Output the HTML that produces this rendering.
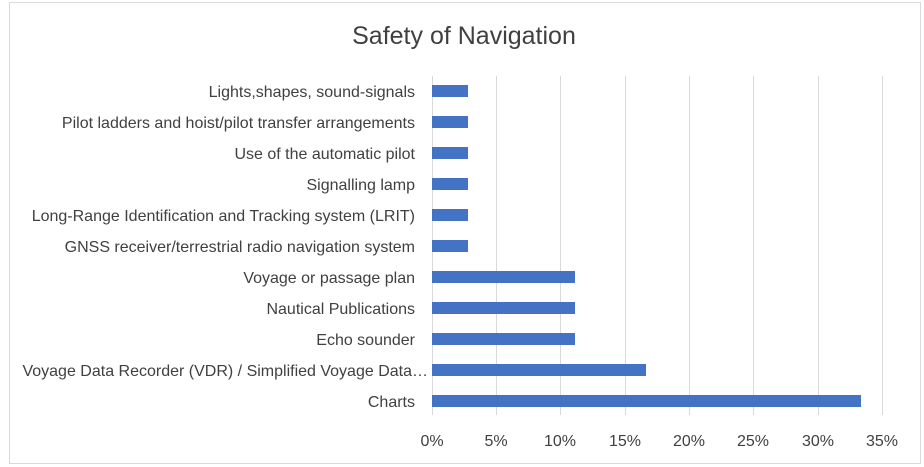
<!DOCTYPE html>
<html><head><style>
body{margin:0;background:#fff;}
svg{display:block;font-family:"Liberation Sans",sans-serif;}
</style></head><body>
<svg width="924" height="467" viewBox="0 0 924 467">
<rect x="9.5" y="2.5" width="911" height="461" fill="#fff" stroke="#d9d9d9"/>
<text x="464" y="44" font-size="25" fill="#404040" text-anchor="middle">Safety of Navigation</text>
<g stroke="#d9d9d9" stroke-width="1">
<line x1="432.5" y1="76" x2="432.5" y2="415"/>
<line x1="496.5" y1="76" x2="496.5" y2="415"/>
<line x1="560.5" y1="76" x2="560.5" y2="415"/>
<line x1="625.5" y1="76" x2="625.5" y2="415"/>
<line x1="689.5" y1="76" x2="689.5" y2="415"/>
<line x1="753.5" y1="76" x2="753.5" y2="415"/>
<line x1="818.5" y1="76" x2="818.5" y2="415"/>
<line x1="882.5" y1="76" x2="882.5" y2="415"/>
</g>
<g fill="#4472c4">
<rect x="432" y="85" width="36" height="12"/>
<rect x="432" y="116" width="36" height="12"/>
<rect x="432" y="147" width="36" height="12"/>
<rect x="432" y="178" width="36" height="12"/>
<rect x="432" y="209" width="36" height="12"/>
<rect x="432" y="240" width="36" height="12"/>
<rect x="432" y="271" width="143" height="12"/>
<rect x="432" y="302" width="143" height="12"/>
<rect x="432" y="333" width="143" height="12"/>
<rect x="432" y="364" width="214" height="12"/>
<rect x="432" y="395" width="429" height="12"/>
</g>
<g font-size="16" fill="#404040" text-anchor="end">
<text x="415" y="97">Lights,shapes, sound-signals</text>
<text x="415" y="128">Pilot ladders and hoist/pilot transfer arrangements</text>
<text x="415" y="159">Use of the automatic pilot</text>
<text x="415" y="190">Signalling lamp</text>
<text x="415" y="221">Long-Range Identification and Tracking system (LRIT)</text>
<text x="415" y="252">GNSS receiver/terrestrial radio navigation system</text>
<text x="415" y="283">Voyage or passage plan</text>
<text x="415" y="314">Nautical Publications</text>
<text x="415" y="345">Echo sounder</text>
<text x="428" y="376">Voyage Data Recorder (VDR) / Simplified Voyage Data…</text>
<text x="415" y="407">Charts</text>
</g>
<g font-size="16" fill="#404040" text-anchor="middle">
<text x="432" y="446">0%</text>
<text x="496" y="446">5%</text>
<text x="560" y="446">10%</text>
<text x="625" y="446">15%</text>
<text x="689" y="446">20%</text>
<text x="753" y="446">25%</text>
<text x="818" y="446">30%</text>
<text x="882" y="446">35%</text>
</g>
</svg>
</body></html>
